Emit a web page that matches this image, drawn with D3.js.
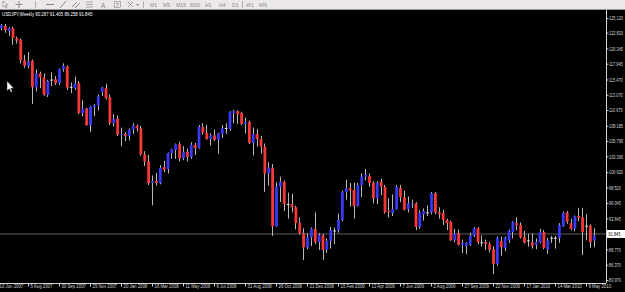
<!DOCTYPE html>
<html><head><meta charset="utf-8">
<script src="https://cdn.jsdelivr.net/npm/d3@7"></script>
<style>
html,body{margin:0;padding:0;background:#000;overflow:hidden}
svg{display:block}
text{font-family:"Liberation Sans","DejaVu Sans",sans-serif}
</style></head><body>
<svg id="c" width="625" height="292"></svg>
<script>
// ---------------- data ----------------
const symbol = "USDJPY,Weekly";
const headerOHLC = ["90.287", "91.405", "89.258", "91.845"];
const firstWeek = "2007-06-10";
const opens = [121.6,123.55,123.86,123.1,123.55,121.95,121.7,118.5,117.6,118.4,114.2,116.4,115.8,113.05,115.4,115.5,114.9,117.1,117.5,114.3,114.1,114.9,110.2,110.9,108.3,111.1,111.4,113.5,114.1,112.7,
108.6,109.3,106.8,106.9,106.6,107.6,108.2,107.8,103.7,102.6,99.2,99.5,99.2,101.7,101.4,103.9,104.4,105.3,103.1,104.1,103.3,105.2,104.7,108.0,107.1,106.1,106.7,106.0,106.9,107.8,
107.7,110.2,110.5,110.2,108.5,108.8,105.5,106.9,106.1,104.9,100.7,101.6,92.4,98.6,99.4,95.9,95.9,95.4,92.9,91.3,89.1,90.7,92.0,89.9,91.0,88.7,90.1,91.75,91.8,93.4,
97.8,98.4,98.1,95.6,98.9,100.2,100.3,99.2,96.8,99.4,98.6,94.8,94.5,95.1,98.4,97.0,95.1,96.0,96.0,92.3,94.3,94.6,94.6,97.6,94.6,94.5,93.4,93.1,90.2,91.3,
89.5,89.3,89.5,90.9,92.1,89.9,89.9,89.6,88.8,86.5,90.1,89.0,90.2,91.5,92.9,92.6,90.7,90.2,89.9,89.5,89.9,91.5,88.8,90.6,90.6,90.6,92.4,94.6,92.9,92.0,
94.0,93.8,92.5,92.5,90.2];
const highs = [123.7,124.15,124.2,123.7,123.8,122.2,121.9,119.3,119.8,118.6,117.05,116.7,116.4,115.4,116.6,116.0,117.2,118.0,117.7,115.0,115.9,115.2,112.2,111.0,111.3,111.6,113.1,114.3,114.8,113.1,
110.0,109.8,107.9,107.2,107.8,108.6,108.4,108.2,104.2,103.6,100.4,100.8,102.0,102.7,104.0,104.6,105.4,105.7,105.0,104.6,105.6,105.5,108.3,108.6,108.3,107.0,107.6,107.1,108.3,108.6,
110.5,110.7,110.6,110.4,109.5,109.0,107.9,107.7,106.6,105.4,102.5,102.2,99.3,100.2,99.6,97.7,97.5,95.6,93.8,92.1,91.3,92.2,94.6,91.3,91.2,90.5,92.3,92.2,94.4,98.0,
99.7,99.2,99.3,99.2,100.7,101.4,100.7,99.5,99.5,99.9,98.9,96.8,97.4,98.9,98.9,98.0,97.1,96.6,96.2,94.9,95.2,95.7,97.8,97.8,95.4,95.0,93.6,93.3,92.0,91.9,
90.3,89.9,91.4,92.3,92.3,91.0,90.3,89.9,89.3,90.8,90.8,90.8,91.9,93.2,93.8,93.0,91.7,91.2,91.3,90.5,92.0,91.8,90.6,90.9,90.9,92.9,94.7,94.8,93.6,94.1,
95.3,95.3,94.3,92.7,92.1];
const lows = [121.4,123.2,122.8,122.3,120.9,121.1,118.0,117.3,117.2,111.6,113.6,114.1,112.9,112.7,114.4,114.6,114.6,116.7,113.8,113.3,113.8,110.0,109.7,108.2,107.2,109.7,110.6,112.9,112.3,108.3,
108.1,106.6,104.95,105.8,105.9,106.9,107.3,103.5,101.9,98.9,95.7,98.8,99.0,100.9,100.7,103.0,103.0,102.6,102.8,102.6,103.0,103.6,104.6,106.8,106.0,105.1,105.8,103.8,106.3,106.9,
107.4,108.6,108.5,108.3,107.0,105.3,103.5,104.9,103.8,97.8,98.8,90.9,92.3,96.2,94.8,93.6,94.6,91.9,91.1,87.1,88.8,89.3,89.6,88.7,87.1,88.2,88.9,89.6,91.4,93.2,
96.6,95.5,93.6,95.5,97.0,99.6,98.6,96.0,95.9,97.3,94.4,93.8,94.0,95.0,96.2,94.9,94.6,95.3,91.8,92.0,93.3,94.0,94.3,94.3,93.6,92.6,91.8,90.1,89.9,89.4,
88.2,88.0,89.3,90.7,89.6,89.2,88.7,88.3,84.9,86.2,87.8,88.5,89.8,90.5,91.8,90.5,89.7,89.2,88.9,88.8,89.7,88.8,88.1,89.8,88.9,89.8,92.3,92.8,91.8,91.6,
93.2,87.9,90.2,89.0,89.1];
const closes = [123.5,124.0,123.24,123.5,122.0,121.55,118.5,117.6,118.3,114.3,116.4,115.8,113.05,115.2,115.45,114.9,117.1,117.6,114.2,114.3,114.8,110.2,110.9,108.3,111.2,111.4,112.8,114.2,112.5,108.6,
109.3,106.8,106.9,106.6,107.6,108.2,107.8,103.7,102.6,99.2,99.5,99.2,101.6,101.25,103.9,104.5,105.3,103.1,104.1,103.3,105.2,104.7,108.0,107.1,106.1,106.7,106.0,107.0,107.8,107.85,
110.4,110.5,110.0,108.5,108.8,105.5,106.9,106.1,104.9,100.7,101.6,92.4,98.6,99.4,95.9,95.9,95.4,92.9,91.3,89.1,90.7,92.0,89.9,91.0,88.7,90.1,91.8,91.7,93.4,97.8,
98.4,98.0,95.6,98.9,100.2,100.5,99.2,96.8,99.2,98.6,94.6,94.7,95.1,98.6,97.0,95.0,96.0,96.1,92.3,94.5,94.8,94.6,97.6,94.6,94.3,93.4,92.9,90.2,91.3,89.5,
89.8,89.8,90.9,92.1,89.9,89.9,89.6,88.7,86.5,90.6,89.1,90.6,91.7,93.1,92.6,90.7,89.8,90.2,89.3,89.9,91.5,89.0,90.2,90.6,90.6,92.6,94.5,93.1,92.0,94.0,
93.7,91.5,92.5,89.9,91.0];
const priceTicks = [125.120,122.820,120.345,117.945,115.470,113.070,110.670,108.185,105.795,103.395,100.920,98.520,96.045,93.645,88.770,86.370,83.970];
const dateTickLabels = ["10 Jun 2007","5 Aug 2007","30 Sep 2007","25 Nov 2007","20 Jan 2008","16 Mar 2008","11 May 2008","6 Jul 2008","31 Aug 2008","26 Oct 2008","21 Dec 2008","15 Feb 2009","12 Apr 2009","7 Jun 2009","2 Aug 2009","27 Sep 2009","22 Nov 2009","17 Jan 2010","14 Mar 2010","9 May 2010"];
const bidText = "91.845";
const bidLevel = 91.2;
const periods = ["M1","M5","M15","M30","H1","H4","D1","W1","MN"];

// ---------------- layout ----------------
const W = 625, H = 292;
const plotLeft = 0, plotRight = 606, plotTop = 10, plotBottom = 283;
const upColor = "#3838f8", downColor = "#f83838", wickColor = "#b8b8b8", axisColor = "#d4d4d4";
const FONT = "Liberation Sans, DejaVu Sans, sans-serif";

// squeeze a text horizontally with a transform (the reference uses a narrow bitmap font)
function squeeze(sel, k) {
  sel.each(function () {
    const t = d3.select(this);
    const x0 = +t.attr("x") || 0;
    t.attr("x", 0).attr("transform", `translate(${x0},0) scale(${k},1)`);
  });
}

const svg = d3.select("#c");
svg.append("rect").attr("width", W).attr("height", H).attr("fill", "#000");

const parseISO = d3.timeParse("%Y-%m-%d");
const parseLabel = d3.timeParse("%d %b %Y");
const start = parseISO(firstWeek);
const weeks = d3.timeWeek.range(start, d3.timeDay.offset(start, 7 * opens.length));
const bars = weeks.map((d, i) => ({date: d, o: opens[i], h: highs[i], l: lows[i], c: closes[i]}));

const x = d3.scaleTime().domain([parseLabel("5 Aug 2007"), parseLabel("9 May 2010")]).range([28, 586]);
const y = d3.scaleLinear().domain([83.97, 125.12]).range([280, 18]);
const bodyW = 2.8;

// toolbar
const tb = svg.append("g");
tb.append("rect").attr("x", 0).attr("y", 0).attr("width", W).attr("height", 9).attr("fill", "#ece8ea");
tb.append("line").attr("x1", 0).attr("x2", W).attr("y1", 9.5).attr("y2", 9.5).attr("stroke", "#9a9a9a");
const ic = "#8a8a8a";
tb.append("path").attr("d", "M3,1 L3,7 L4.5,5.5 L6,8 L7,7.5 L5.6,5 L7.5,5 Z").attr("fill", "#fff").attr("stroke", "#555").attr("stroke-width", 0.5);
tb.append("path").attr("d", "M19,1 V8 M15.5,4.5 H22.5").attr("stroke", ic).attr("stroke-width", 1);
[35, 143, 242].forEach(sx => tb.append("line").attr("x1", sx + 0.5).attr("x2", sx + 0.5).attr("y1", 1).attr("y2", 8).attr("stroke", "#b0b0b0"));
tb.append("path").attr("d", "M46,4.5 H54").attr("stroke", ic);
tb.append("path").attr("d", "M60,8 L66,1").attr("stroke", ic);
tb.append("path").attr("d", "M72,7 L77,2 M75,8 L80,3").attr("stroke", ic);
tb.append("path").attr("d", "M86,2 H93 M86,4.5 H93 M86,7 H93").attr("stroke", ic).attr("stroke-width", 0.7);
tb.append("text").attr("x", 101).attr("y", 7.5).attr("font-size", 6.5).attr("fill", ic).text("A");
tb.append("rect").attr("x", 114.5).attr("y", 1.5).attr("width", 6).attr("height", 6).attr("fill", "none").attr("stroke", ic).attr("stroke-width", 0.6);
tb.append("text").attr("x", 115.8).attr("y", 6.6).attr("font-size", 5.5).attr("fill", ic).text("T");
tb.append("path").attr("d", "M128,2 L133,7 M128,7 L133,2").attr("stroke", ic).attr("stroke-width", 0.8);
tb.append("path").attr("d", "M136,4 L139,4 L137.5,6 Z").attr("fill", ic);
const pX = [150, 163, 176, 190, 205, 219, 232, 246, 259];
tb.selectAll("text.per").data(periods).join("text").attr("class", "per")
  .attr("x", (d, i) => pX[i]).attr("y", 7).attr("font-size", 5.2).attr("fill", "#8c8c8c").text(d => d);

// clip
svg.append("clipPath").attr("id", "plot").append("rect")
  .attr("x", plotLeft).attr("y", plotTop).attr("width", plotRight - plotLeft).attr("height", plotBottom - plotTop);
const plot = svg.append("g").attr("clip-path", "url(#plot)");

// bid line
plot.append("line").attr("x1", 0).attr("x2", plotRight).attr("y1", y(bidLevel)).attr("y2", y(bidLevel))
  .attr("stroke", "#5c5c5c").attr("stroke-width", 1);

// candles
const g = plot.selectAll("g.bar").data(bars).join("g").attr("class", "bar");
g.append("line")
  .attr("x1", d => Math.round(x(d.date)) + 0.5).attr("x2", d => Math.round(x(d.date)) + 0.5)
  .attr("y1", d => y(d.h)).attr("y2", d => y(d.l))
  .attr("stroke", wickColor).attr("stroke-width", 1);
g.append("rect")
  .attr("x", d => x(d.date) - bodyW / 2 + 0.5)
  .attr("width", bodyW)
  .attr("y", d => y(Math.max(d.o, d.c)))
  .attr("height", d => Math.max(1, Math.abs(y(d.o) - y(d.c))))
  .attr("fill", d => Math.abs(d.c - d.o) < 0.08 ? "#e0e0e0" : (d.c > d.o ? upColor : downColor));

// header text
svg.append("text").attr("x", 2).attr("y", 16).attr("font-size", 5.6).attr("fill", "#ffffff")
  .text(symbol + "  " + headerOHLC.join(" ")).call(squeeze, 0.78);

// mouse pointer
svg.append("path").attr("d", "M7,81 L7,91 L9.3,88.8 L11,92.3 L12.4,91.6 L10.8,88.3 L13.8,88.3 Z")
  .attr("fill", "#fff").attr("stroke", "#222").attr("stroke-width", 0.5);

// price axis
const yAxis = svg.append("g").attr("transform", `translate(${plotRight + 0.5},0)`)
  .call(d3.axisRight(y).tickValues(priceTicks).tickFormat(d3.format(".3f")).tickSize(2).tickPadding(0.5));
yAxis.select(".domain").attr("d", `M0,${plotTop}V${plotBottom}`).attr("stroke", axisColor);
yAxis.selectAll(".tick line").attr("stroke", axisColor);
yAxis.selectAll(".tick text").attr("fill", axisColor).attr("font-size", 5.4).attr("font-family", FONT)
  .call(squeeze, 0.72);

// bid box
const by = y(bidLevel);
svg.append("rect").attr("x", plotRight + 1).attr("y", by - 4).attr("width", W - plotRight - 1).attr("height", 8).attr("fill", "#ffffff");
svg.append("text").attr("x", plotRight + 2.5).attr("y", by + 2).attr("font-size", 5.4).attr("fill", "#000")
  .attr("font-family", FONT).text(bidText).call(squeeze, 0.72);

// date axis
const xAxis = svg.append("g").attr("transform", `translate(0,${plotBottom + 0.5})`)
  .call(d3.axisBottom(x).tickValues(dateTickLabels.map(parseLabel)).tickFormat(d3.timeFormat("%-d %b %Y")).tickSize(3));
xAxis.select(".domain").attr("d", `M0,0H${plotRight}`).attr("stroke", axisColor);
xAxis.selectAll(".tick line").attr("stroke", axisColor);
xAxis.selectAll(".tick text").attr("fill", axisColor).attr("font-size", 6).attr("text-anchor", "start")
  .attr("x", 2).attr("y", 0.5).attr("dy", "0.71em").attr("font-family", FONT)
  .call(squeeze, 0.72);
</script>
</body></html>
